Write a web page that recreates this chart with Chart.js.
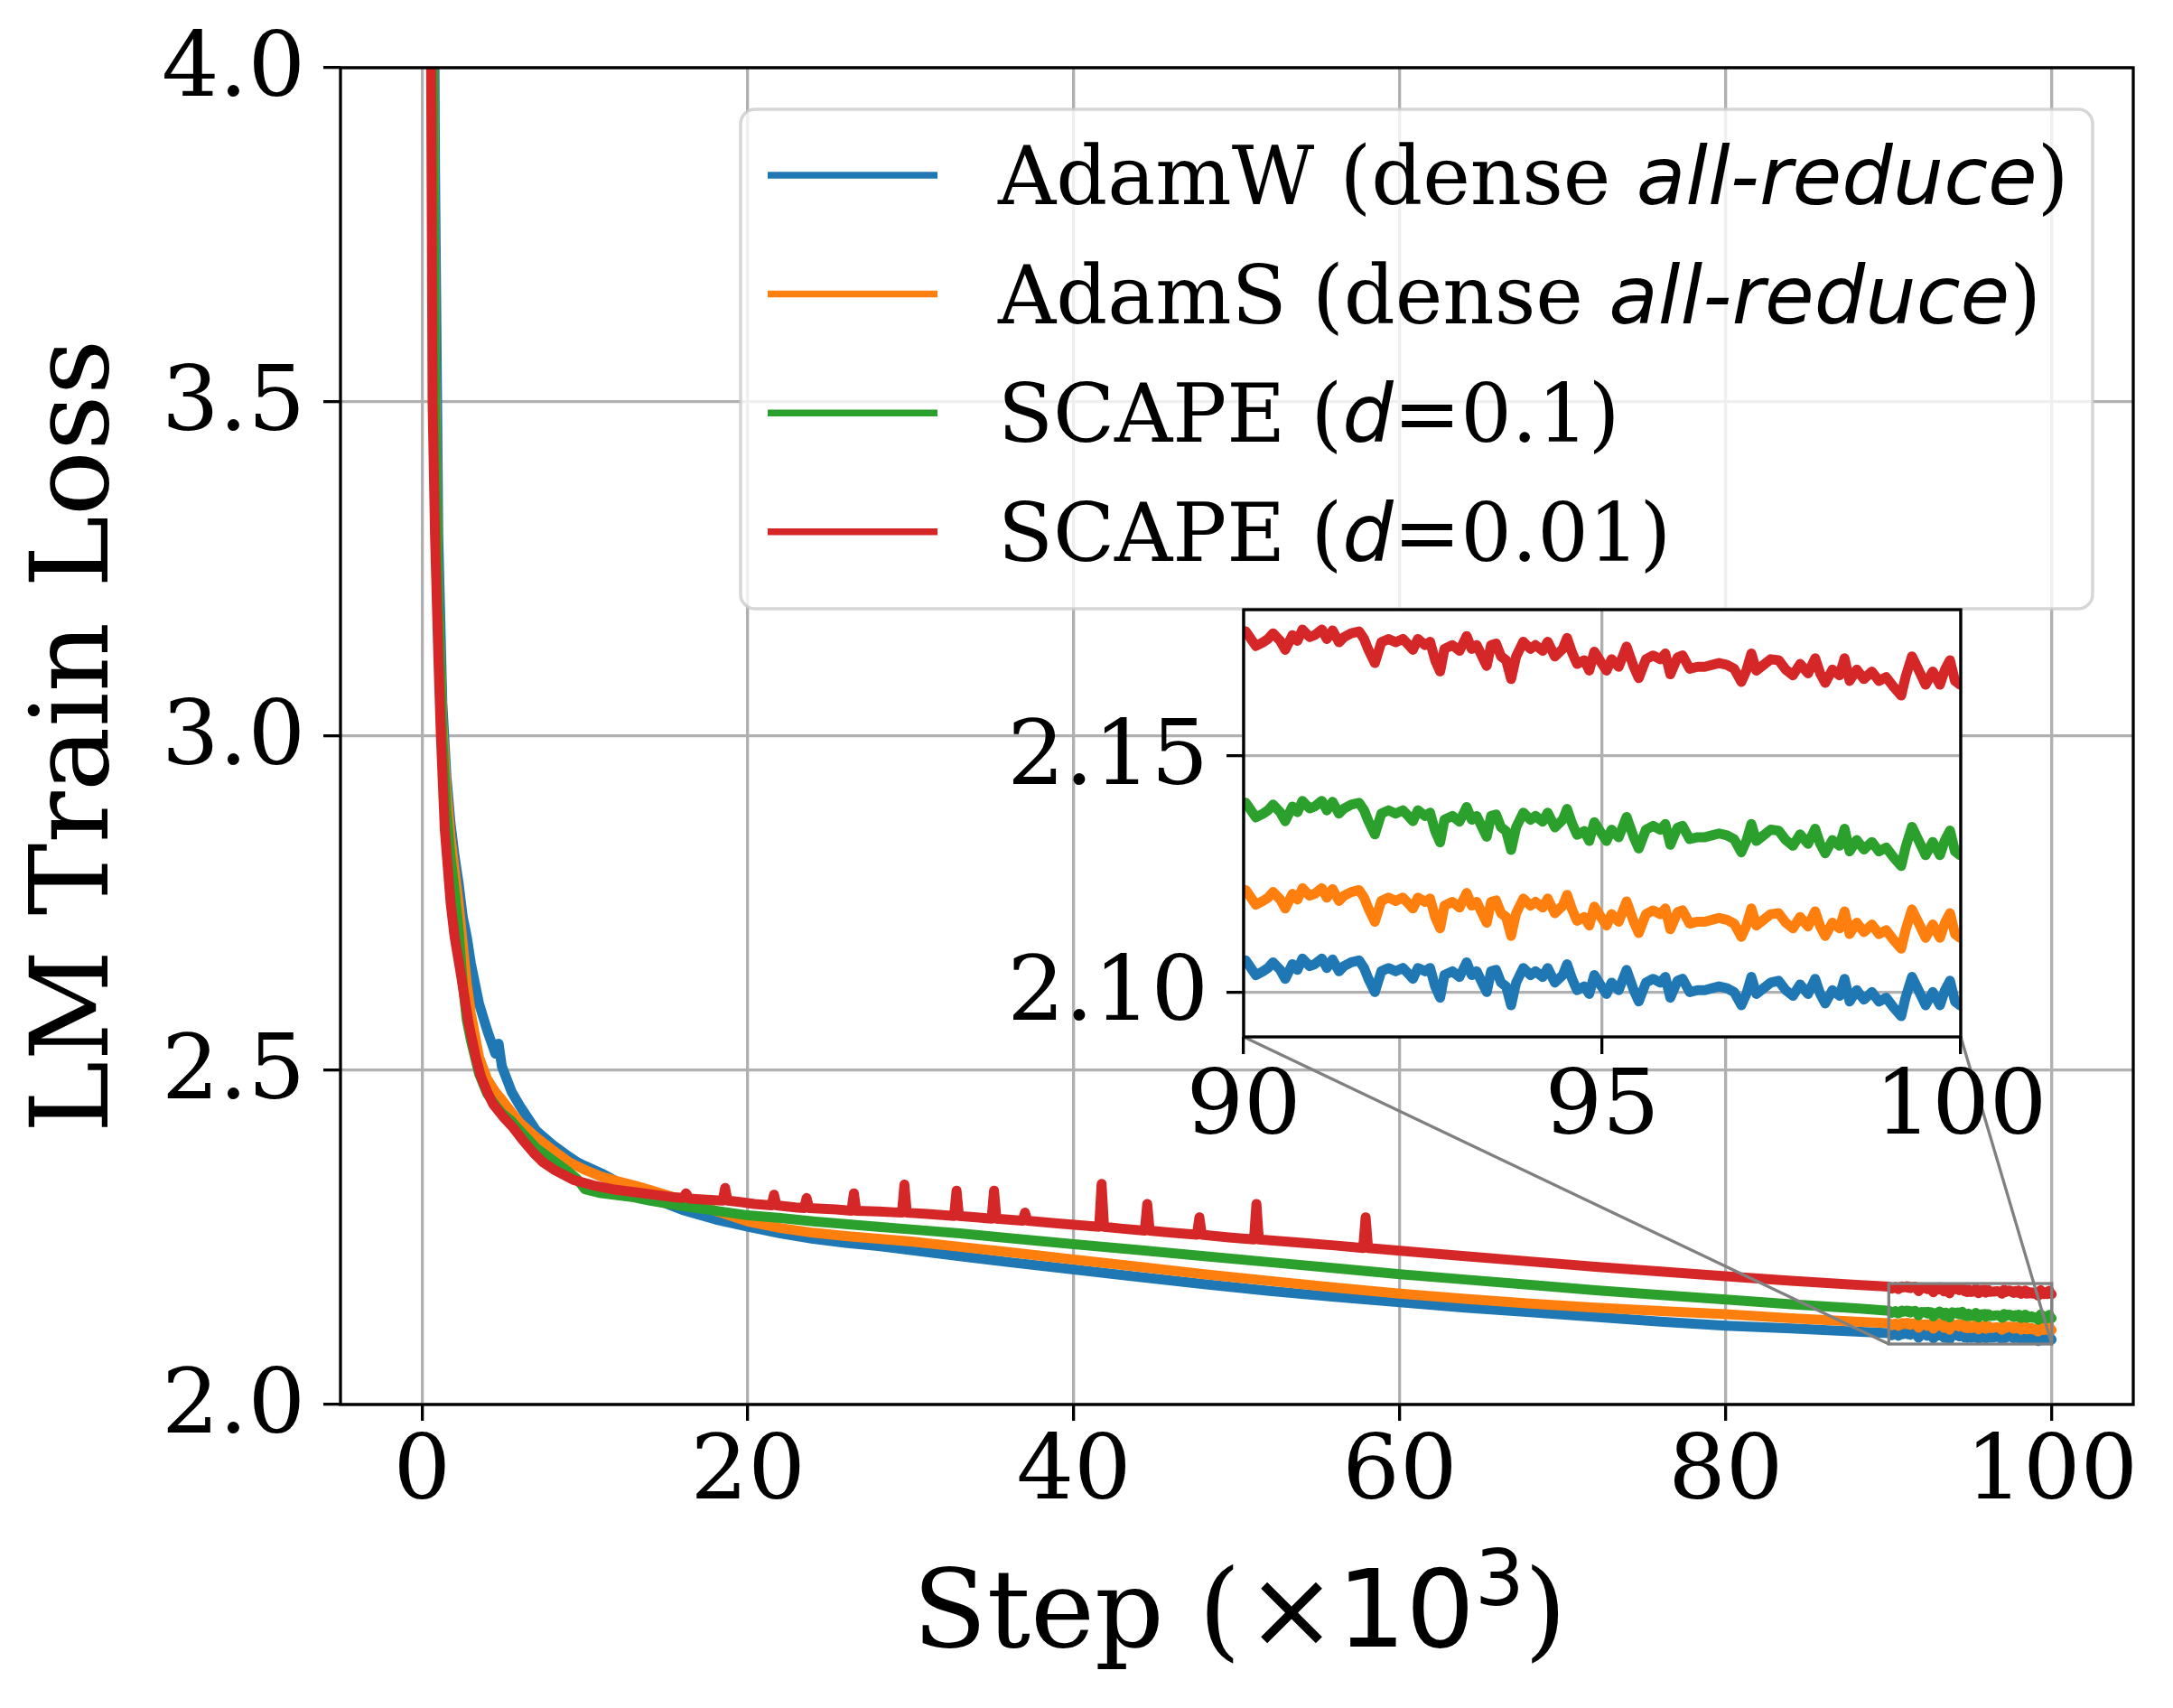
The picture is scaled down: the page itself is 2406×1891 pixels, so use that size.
<!DOCTYPE html>
<html>
<head>
<meta charset="utf-8">
<script src="https://cdn.jsdelivr.net/npm/chart.js@4.4.1/dist/chart.umd.min.js"></script>
<style>
  html, body { margin: 0; padding: 0; background: #ffffff; }
  #wrap { position: relative; width: 2406px; height: 1891px; overflow: hidden; }
  #main { position: absolute; left: 0; top: 0; }
  #inset { position: absolute; left: 1050px; top: 600px; }
</style>
</head>
<body>
<div id="wrap">
  <canvas id="main" width="2406" height="1891"></canvas>
  <canvas id="inset" width="1250" height="700"></canvas>
</div>
<script>
// ---------------- data ----------------
const seriesLabels = ['AdamW (dense *all-reduce*)', 'AdamS (dense *all-reduce*)', 'SCAPE (*d*=0.1)', 'SCAPE (*d*=0.01)'];
const seriesColors = ['#1f77b4', '#ff7f0e', '#2ca02c', '#d62728'];

const xTicks = [0, 20, 40, 60, 80, 100];
const xTickLabels = ['0', '20', '40', '60', '80', '100'];
const yTicks = [2.0, 2.5, 3.0, 3.5, 4.0];
const yTickLabels = ['2.0', '2.5', '3.0', '3.5', '4.0'];
const insetXTicks = [90, 95, 100];
const insetXTickLabels = ['90', '95', '100'];
const insetYTicks = [2.10, 2.15];
const insetYTickLabels = ['2.10', '2.15'];
const xRange = [-5, 105];
const yRange = [2.0, 4.0];
const insetXRange = [90, 100];
const insetYRange = [2.0905, 2.181];

// steps (x10^3) shared by AdamW / AdamS / SCAPE d=0.1 for 0..88
const mainSteps = [0, 0.2, 0.4, 0.6, 0.8, 1.0, 1.25, 1.5, 1.75, 2.0, 2.25, 2.5, 2.75, 3.0, 3.5, 4.0, 4.5, 4.7, 4.9, 5.5,
  6.0, 7.0, 8.0, 9.0, 9.5, 10.0, 11, 12, 13, 14, 16, 18, 20, 22, 24, 26, 28, 30, 33, 36, 40, 44, 48, 52, 56, 60, 64, 68, 72, 76, 80, 84, 88];
const adamwMain = [10.9, 8.1, 6.1, 4.9, 3.85, 3.3, 3.05, 2.94, 2.87, 2.82, 2.78, 2.73, 2.70, 2.66, 2.6, 2.56, 2.525, 2.54, 2.506, 2.468,
  2.447, 2.41, 2.389, 2.371, 2.363, 2.357, 2.346, 2.333, 2.320, 2.31, 2.291, 2.277, 2.266, 2.256, 2.248, 2.242, 2.237, 2.231, 2.222, 2.213,
  2.202, 2.191, 2.180, 2.170, 2.161, 2.153, 2.145, 2.138, 2.131, 2.124, 2.118, 2.114, 2.109];
const adamsMain = [10.9, 7.95, 5.7, 4.4, 3.55, 3.2, 3.02, 2.92, 2.85, 2.80, 2.75, 2.69, 2.63, 2.585, 2.52, 2.487, 2.468, 2.462, 2.456, 2.437,
  2.422, 2.40, 2.381, 2.363, 2.357, 2.351, 2.341, 2.334, 2.328, 2.321, 2.306, 2.29, 2.274, 2.264, 2.257, 2.252, 2.248, 2.244, 2.236, 2.228,
  2.217, 2.206, 2.195, 2.185, 2.175, 2.166, 2.158, 2.151, 2.145, 2.140, 2.135, 2.129, 2.124];
const scape1Main = [10.9, 7.9, 5.6, 4.3, 3.5, 3.2, 3.0, 2.89, 2.82, 2.77, 2.71, 2.63, 2.575, 2.545, 2.495, 2.465, 2.448, 2.442, 2.436, 2.424,
  2.41, 2.384, 2.366, 2.348, 2.338, 2.322, 2.316, 2.313, 2.310, 2.305, 2.297, 2.290, 2.283, 2.279, 2.274, 2.270, 2.266, 2.262, 2.256, 2.249,
  2.240, 2.231, 2.222, 2.213, 2.204, 2.195, 2.187, 2.179, 2.171, 2.164, 2.157, 2.150, 2.144];

// SCAPE d=0.01 has its own steps (loss spikes)
const scape01Steps = [0, 0.2, 0.4, 0.55, 0.65, 0.8, 1.0, 1.16, 1.4, 1.76, 2.0, 2.37, 2.87, 3.3, 3.61, 4.0, 4.35, 5.0, 5.6, 6.2,
  6.83, 7.4, 8.06, 9.3, 10.5, 11.7, 13, 14.2, 15.5, 16.0, 16.2, 16.4, 17, 18.45, 18.6, 18.75, 19.5, 20.4, 21.45, 21.6,
  21.75, 22.9, 23.45, 23.6, 23.75, 25.4, 26.35, 26.5, 26.65, 28, 29.45, 29.6, 29.75, 31, 32.65, 32.8, 32.95, 34, 34.95, 35.1,
  35.25, 36.85, 37.0, 37.15, 39, 41.55, 41.7, 41.85, 43, 44.35, 44.5, 44.65, 46, 47.55, 47.7, 47.85, 49.5, 51.05, 51.2, 51.35,
  54, 56, 57.75, 57.9, 58.05, 61, 64, 68, 72, 76, 80, 84, 88];
const scape01Main = [10.9, 7.8, 5.4, 4.05, 3.5, 3.3, 3.12, 3.0, 2.86, 2.75, 2.70, 2.646, 2.569, 2.52, 2.491, 2.468, 2.45, 2.43, 2.414, 2.395,
  2.377, 2.363, 2.352, 2.336, 2.328, 2.322, 2.318, 2.314, 2.31, 2.309, 2.316, 2.308, 2.307, 2.305, 2.324, 2.305, 2.303, 2.300, 2.298, 2.314,
  2.298, 2.295, 2.294, 2.309, 2.294, 2.292, 2.290, 2.316, 2.290, 2.289, 2.287, 2.329, 2.287, 2.285, 2.282, 2.32, 2.282, 2.280, 2.278, 2.32,
  2.278, 2.275, 2.287, 2.275, 2.271, 2.266, 2.33, 2.266, 2.263, 2.260, 2.30, 2.260, 2.257, 2.254, 2.28, 2.254, 2.250, 2.247, 2.30, 2.247,
  2.242, 2.238, 2.234, 2.28, 2.234, 2.228, 2.222, 2.214, 2.206, 2.199, 2.192, 2.185, 2.179];

// dense last 10k steps (the zoomed region)
const zoomSteps = [90.03, 90.17, 90.27, 90.34, 90.41, 90.51, 90.58, 90.68, 90.75, 90.82,
  90.92, 90.99, 91.09, 91.16, 91.24, 91.33, 91.40, 91.50, 91.61, 91.68,
  91.74, 91.83, 91.92, 92.02, 92.12, 92.22, 92.29, 92.36, 92.43, 92.53,
  92.60, 92.67, 92.74, 92.80, 92.91, 93.01, 93.11, 93.18, 93.25, 93.35,
  93.39, 93.45, 93.52, 93.59, 93.66, 93.73, 93.80, 93.90, 94.00, 94.07,
  94.17, 94.24, 94.34, 94.45, 94.51, 94.58, 94.65, 94.75, 94.82, 94.89,
  94.99, 95.06, 95.13, 95.23, 95.34, 95.44, 95.51, 95.61, 95.71, 95.81,
  95.88, 95.95, 96.05, 96.12, 96.22, 96.33, 96.43, 96.53, 96.63, 96.74,
  96.84, 96.94, 97.01, 97.08, 97.15, 97.25, 97.35, 97.46, 97.56, 97.66,
  97.76, 97.87, 97.97, 98.04, 98.11, 98.21, 98.31, 98.38, 98.45, 98.55,
  98.65, 98.76, 98.86, 98.96, 99.06, 99.17, 99.23, 99.32, 99.41, 99.51,
  99.61, 99.71, 99.78, 99.85, 99.92, 99.99];
const adamwZoom = [2.1067, 2.1036, 2.1044, 2.1051, 2.1063, 2.1047, 2.1028, 2.1059, 2.1047, 2.1071, 2.1055, 2.1059, 2.1071, 2.1051, 2.1069, 2.1044, 2.1055, 2.1063, 2.1067, 2.1051, 2.1028, 2.1000, 2.1044, 2.1051, 2.1044, 2.1051, 2.1040, 2.1028, 2.1051,
  2.1044, 2.1051, 2.1012, 2.0988, 2.1036, 2.1044, 2.1032, 2.1063, 2.1036, 2.1044, 2.1012, 2.1000, 2.1044, 2.1047, 2.1020, 2.1012, 2.0972, 2.1020, 2.1051, 2.1036, 2.1044, 2.1032, 2.1051, 2.1020, 2.1036, 2.1059, 2.1028, 2.1004, 2.1012,
  2.0996, 2.1036, 2.1012, 2.0996, 2.1020, 2.1004, 2.1047, 2.1004, 2.0980, 2.1020, 2.1028, 2.1020, 2.1032, 2.0988, 2.1024, 2.1028, 2.1000, 2.1004, 2.1004, 2.1008, 2.1012, 2.1008, 2.1000, 2.0972, 2.0996, 2.1032, 2.0996, 2.1008, 2.1020,
  2.1024, 2.1004, 2.0992, 2.1016, 2.0996, 2.1028, 2.0996, 2.0976, 2.1004, 2.0992, 2.1028, 2.0980, 2.1004, 2.0984, 2.1000, 2.0980, 2.0988, 2.0968, 2.0949, 2.0988, 2.1032, 2.1004, 2.0972, 2.1000, 2.0972, 2.1004, 2.1024, 2.0980, 2.0972];
const adamsZoom = [2.1216, 2.1185, 2.1193, 2.1200, 2.1212, 2.1196, 2.1177, 2.1208, 2.1196, 2.1220, 2.1204, 2.1208, 2.1220, 2.1200, 2.1218, 2.1193, 2.1204, 2.1212, 2.1216, 2.1200, 2.1177, 2.1149, 2.1193, 2.1200, 2.1193, 2.1200, 2.1189, 2.1177, 2.1200,
  2.1191, 2.1198, 2.1159, 2.1135, 2.1183, 2.1191, 2.1179, 2.1210, 2.1183, 2.1191, 2.1159, 2.1147, 2.1191, 2.1194, 2.1167, 2.1159, 2.1119, 2.1167, 2.1198, 2.1183, 2.1191, 2.1179, 2.1198, 2.1167, 2.1183, 2.1206, 2.1175, 2.1151, 2.1159,
  2.1141, 2.1181, 2.1157, 2.1141, 2.1165, 2.1149, 2.1192, 2.1149, 2.1125, 2.1165, 2.1173, 2.1165, 2.1177, 2.1133, 2.1169, 2.1173, 2.1145, 2.1149, 2.1149, 2.1153, 2.1157, 2.1153, 2.1145, 2.1117, 2.1141, 2.1177, 2.1141, 2.1153, 2.1165,
  2.1167, 2.1147, 2.1135, 2.1159, 2.1139, 2.1171, 2.1139, 2.1119, 2.1147, 2.1135, 2.1171, 2.1123, 2.1147, 2.1127, 2.1143, 2.1123, 2.1131, 2.1111, 2.1092, 2.1131, 2.1175, 2.1147, 2.1115, 2.1143, 2.1115, 2.1147, 2.1167, 2.1123, 2.1115];
const scape1Zoom = [2.1401, 2.1370, 2.1378, 2.1385, 2.1397, 2.1381, 2.1362, 2.1393, 2.1381, 2.1405, 2.1389, 2.1393, 2.1405, 2.1385, 2.1403, 2.1378, 2.1389, 2.1397, 2.1401, 2.1385, 2.1362, 2.1334, 2.1378, 2.1385, 2.1378, 2.1385, 2.1374, 2.1362, 2.1385,
  2.1373, 2.1380, 2.1341, 2.1317, 2.1365, 2.1373, 2.1361, 2.1392, 2.1365, 2.1373, 2.1341, 2.1329, 2.1373, 2.1376, 2.1349, 2.1341, 2.1301, 2.1349, 2.1380, 2.1365, 2.1373, 2.1361, 2.1380, 2.1349, 2.1365, 2.1388, 2.1357, 2.1333, 2.1341,
  2.1320, 2.1360, 2.1336, 2.1320, 2.1344, 2.1328, 2.1371, 2.1328, 2.1304, 2.1344, 2.1352, 2.1344, 2.1356, 2.1312, 2.1348, 2.1352, 2.1324, 2.1328, 2.1328, 2.1332, 2.1336, 2.1332, 2.1324, 2.1296, 2.1320, 2.1356, 2.1320, 2.1332, 2.1344,
  2.1342, 2.1322, 2.1310, 2.1334, 2.1314, 2.1346, 2.1314, 2.1294, 2.1322, 2.1310, 2.1346, 2.1298, 2.1322, 2.1302, 2.1318, 2.1298, 2.1306, 2.1286, 2.1267, 2.1306, 2.1350, 2.1322, 2.1290, 2.1318, 2.1290, 2.1322, 2.1342, 2.1298, 2.1290];
const scape01Zoom = [2.1764, 2.1733, 2.1741, 2.1748, 2.1760, 2.1744, 2.1725, 2.1756, 2.1744, 2.1768, 2.1752, 2.1756, 2.1768, 2.1748, 2.1766, 2.1741, 2.1752, 2.1760, 2.1764, 2.1748, 2.1725, 2.1697, 2.1741, 2.1748, 2.1741, 2.1748, 2.1737, 2.1725, 2.1748,
  2.1735, 2.1742, 2.1703, 2.1679, 2.1727, 2.1735, 2.1723, 2.1754, 2.1727, 2.1735, 2.1703, 2.1691, 2.1735, 2.1738, 2.1711, 2.1703, 2.1663, 2.1711, 2.1742, 2.1727, 2.1735, 2.1723, 2.1742, 2.1711, 2.1727, 2.1750, 2.1719, 2.1695, 2.1703,
  2.1681, 2.1721, 2.1697, 2.1681, 2.1705, 2.1689, 2.1732, 2.1689, 2.1665, 2.1705, 2.1713, 2.1705, 2.1717, 2.1673, 2.1709, 2.1713, 2.1685, 2.1689, 2.1689, 2.1693, 2.1697, 2.1693, 2.1685, 2.1657, 2.1681, 2.1717, 2.1681, 2.1693, 2.1705,
  2.1703, 2.1683, 2.1671, 2.1695, 2.1675, 2.1707, 2.1675, 2.1655, 2.1683, 2.1671, 2.1707, 2.1659, 2.1683, 2.1663, 2.1679, 2.1659, 2.1667, 2.1647, 2.1628, 2.1667, 2.1711, 2.1683, 2.1651, 2.1679, 2.1651, 2.1683, 2.1703, 2.1659, 2.1651];

// ---------------- build ----------------
const INSET_LEFT = 1050, INSET_TOP = 600;
const SERIF = 'DejaVu Serif', SANS = 'DejaVu Sans';
Chart.defaults.font.family = SERIF;
Chart.defaults.color = '#000000';

function points(steps, vals, zsteps, zvals) {
  const pts = steps.map((s, i) => ({ x: s, y: vals[i] }));
  zsteps.forEach((s, i) => pts.push({ x: s, y: zvals[i] }));
  return pts;
}
const seriesPoints = [
  points(mainSteps, adamwMain, zoomSteps, adamwZoom),
  points(mainSteps, adamsMain, zoomSteps, adamsZoom),
  points(mainSteps, scape1Main, zoomSteps, scape1Zoom),
  points(scape01Steps, scape01Main, zoomSteps, scape01Zoom)
];
function datasets(width) {
  return seriesPoints.map((pts, i) => ({
    label: seriesLabels[i].replace(/\*/g, ''),
    data: pts,
    borderColor: seriesColors[i],
    backgroundColor: seriesColors[i],
    borderWidth: width,
    borderJoinStyle: 'round',
    borderCapStyle: 'round',
    pointRadius: 0,
    tension: 0,
    fill: false,
    clip: 0,
    order: 3 - i
  }));
}

const whiteArea = { id: 'whiteArea', beforeDraw(c) {
  const a = c.chartArea, ctx = c.ctx; ctx.save(); ctx.fillStyle = '#ffffff';
  ctx.fillRect(a.left, a.top, a.right - a.left, a.bottom - a.top); ctx.restore(); } };
const spines = { id: 'spines', afterDatasetsDraw(c) {
  const a = c.chartArea, ctx = c.ctx; ctx.save(); ctx.strokeStyle = '#000000'; ctx.lineWidth = 3.3;
  ctx.strokeRect(a.left, a.top, a.right - a.left, a.bottom - a.top); ctx.restore(); } };

function axisCfg(range, ticks, labels, isX, fit, tickLen, pad) {
  return {
    type: 'linear', min: range[0], max: range[1],
    afterBuildTicks: s => { s.ticks = ticks.map(v => ({ value: v })); },
    afterFit: s => {
      if (isX) s.height = fit; else s.width = fit;
      s.paddingLeft = 0; s.paddingRight = 0; s.paddingTop = 0; s.paddingBottom = 0;
    },
    grid: { color: '#b0b0b0', lineWidth: 3.3, drawTicks: true, tickLength: tickLen, tickColor: '#000000', tickWidth: 3.3 },
    border: { display: false },
    ticks: {
      autoSkip: false, maxRotation: 0, minRotation: 0, color: '#000000', padding: pad,
      labelOffset: isX ? 0 : 5,
      font: { family: SERIF, size: 100, lineHeight: 1 },
      callback: (v, i) => labels[i]
    }
  };
}

// ---- inset ----
const insetScaleX = axisCfg(insetXRange, insetXTicks, insetXTickLabels, true, 152, 19, 12);
const insetScaleY = axisCfg(insetYRange, insetYTicks, insetYTickLabels, false, 327, 19, 20);
const insetChart = new Chart(document.getElementById('inset'), {
  type: 'line',
  data: { datasets: datasets(11) },
  options: {
    responsive: false, animation: false, devicePixelRatio: 1, parsing: false, normalized: true,
    layout: { padding: { left: 0, top: 75, right: 129, bottom: 0 } },
    plugins: { legend: { display: false }, tooltip: { enabled: false }, title: { display: false } },
    scales: { x: insetScaleX, y: insetScaleY }
  },
  plugins: [whiteArea, spines]
});

// ---- main ----
const indicator = { id: 'indicator', afterDatasetsDraw(c) {
  const xs = c.scales.x, ys = c.scales.y, ctx = c.ctx;
  const x0 = xs.getPixelForValue(insetXRange[0]), x1 = xs.getPixelForValue(insetXRange[1]);
  const y0 = ys.getPixelForValue(insetYRange[0]), y1 = ys.getPixelForValue(insetYRange[1]);
  const ia = insetChart.chartArea;
  const L = INSET_LEFT + ia.left, R = INSET_LEFT + ia.right, B = INSET_TOP + ia.bottom;
  ctx.save(); ctx.strokeStyle = '#808080'; ctx.lineWidth = 3.3; ctx.lineJoin = 'miter';
  ctx.strokeRect(x0, y1, x1 - x0, y0 - y1);
  ctx.beginPath(); ctx.moveTo(L, B); ctx.lineTo(x0, y0); ctx.moveTo(R, B); ctx.lineTo(x1, y0); ctx.stroke();
  ctx.restore(); } };

const legendBox = { id: 'legendBox', afterDraw(c) {
  const ctx = c.ctx; ctx.save();
  ctx.beginPath(); ctx.roundRect(820, 121, 1497, 553, 16);
  ctx.fillStyle = 'rgba(255,255,255,0.8)'; ctx.fill();
  ctx.lineWidth = 3.5; ctx.strokeStyle = 'rgba(204,204,204,0.8)'; ctx.stroke();
  seriesLabels.forEach((lab, i) => {
    const yl = 194 + i * 131.6, yb = 226 + i * 131.6;
    ctx.strokeStyle = seriesColors[i]; ctx.lineWidth = 7.5; ctx.lineCap = 'butt';
    ctx.beginPath(); ctx.moveTo(850, yl); ctx.lineTo(1038, yl); ctx.stroke();
    let x = 1105; ctx.fillStyle = '#000000'; ctx.textBaseline = 'alphabetic'; ctx.textAlign = 'left';
    lab.split('*').forEach((seg, k) => {
      if (!seg) return;
      ctx.font = (k % 2) ? 'italic 89px "' + SANS + '"' : '89px "' + SERIF + '"';
      ctx.fillText(seg, x, yb); x += ctx.measureText(seg).width;
    });
  });
  ctx.restore(); } };

const xTitle = { id: 'xTitle', afterDraw(c) {
  const ctx = c.ctx, a = c.chartArea; ctx.save();
  const parts = [
    { t: 'Step (', f: '120px "' + SERIF + '"', dy: 0, gap: 0 },
    { t: '\u00d710', f: '120px "' + SANS + '"', dy: 0, gap: 6 },
    { t: '3', f: '86px "' + SANS + '"', dy: -46, gap: 0 },
    { t: ')', f: '120px "' + SERIF + '"', dy: 0, gap: 0 }
  ];
  let total = 0;
  parts.forEach(p => { ctx.font = p.f; p.w = ctx.measureText(p.t).width; total += p.w + p.gap; });
  let x = (a.left + a.right) / 2 + 3 - total / 2;
  ctx.fillStyle = '#000000'; ctx.textBaseline = 'alphabetic'; ctx.textAlign = 'left';
  parts.forEach(p => { x += p.gap; ctx.font = p.f; ctx.fillText(p.t, x, 1823 + p.dy); x += p.w; });
  ctx.restore(); } };

const mainScaleX = axisCfg(xRange, xTicks, xTickLabels, true, 336, 18, 10);
const mainScaleY = axisCfg(yRange, yTicks, yTickLabels, false, 377, 19, 20);
mainScaleY.title = { display: true, text: 'LM Train Loss', color: '#000000',
  font: { family: SERIF, size: 120, lineHeight: 1.2 }, padding: { top: 16, bottom: 0 } };

const mainChart = new Chart(document.getElementById('main'), {
  type: 'line',
  data: { datasets: datasets(11) },
  options: {
    responsive: false, animation: false, devicePixelRatio: 1, parsing: false, normalized: true,
    layout: { padding: { left: 0, top: 75, right: 44, bottom: 0 } },
    plugins: { legend: { display: false }, tooltip: { enabled: false }, title: { display: false } },
    scales: { x: mainScaleX, y: mainScaleY }
  },
  plugins: [spines, indicator, legendBox, xTitle]
});
</script>
</body>
</html>
